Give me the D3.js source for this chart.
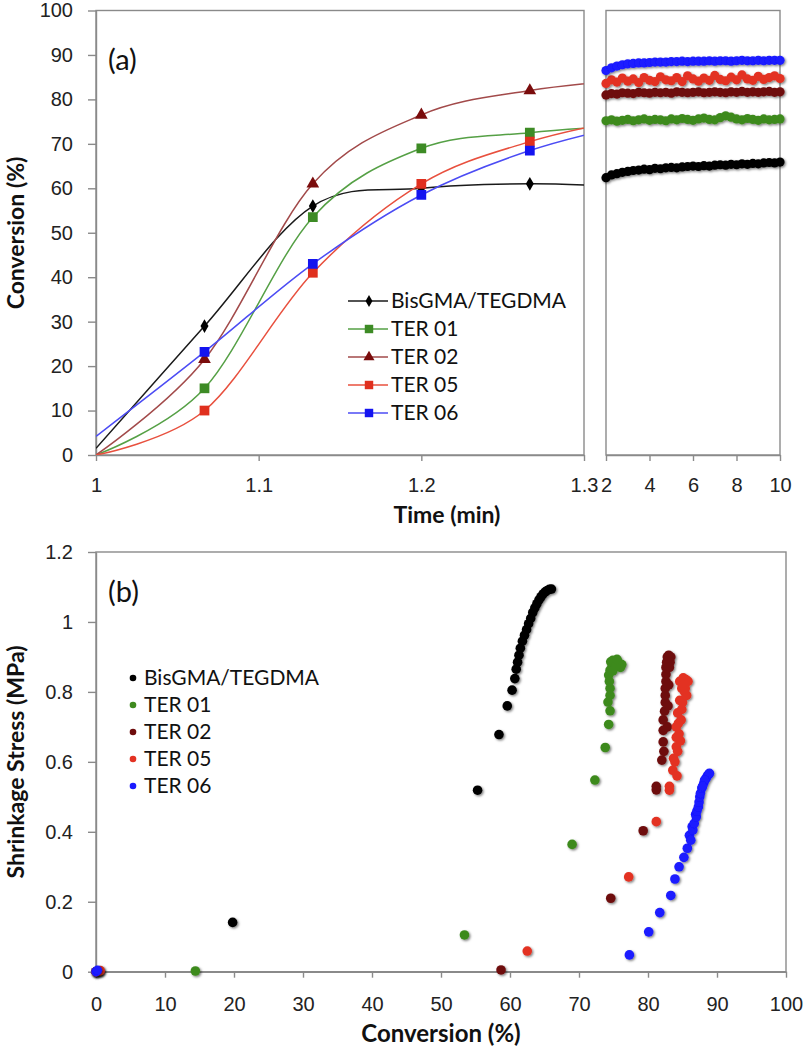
<!DOCTYPE html>
<html>
<head>
<meta charset="utf-8">
<script src="https://cdn.jsdelivr.net/npm/d3@7"></script>
<style>
  body { margin: 0; background: #fff; }
  svg { display: block; font-family: Lato, "Noto Sans", sans-serif; }
</style>
</head>
<body>
<svg id="chart" width="806" height="1050"></svg>
<script>
// ---- data ----
var seriesNames = ["BisGMA/TEGDMA", "TER 01", "TER 02", "TER 05", "TER 06"];

// (a) left part, time in min
var timesA = [1, 1.0667, 1.1333, 1.2, 1.2667, 1.3333];
var bisA   = [1.5, 29, 56, 60, 61, 60.2];
var ter01A = [0, 15, 53.5, 69, 72.5, 74.2];
var ter02A = [0, 21.5, 61, 76.5, 82, 84.6];
var ter05A = [0, 10, 41, 61, 70.5, 76];
var ter06A = [4.2, 23.2, 43, 58.5, 68.5, 74.8];

// (a) right part, 2 - 10 min
var timesR = [2, 2.25, 2.5, 2.75, 3, 3.25, 3.5, 3.75, 4, 4.25, 4.5, 4.75, 5, 5.25, 5.5, 5.75, 6,
              6.25, 6.5, 6.75, 7, 7.25, 7.5, 7.75, 8, 8.25, 8.5, 8.75, 9, 9.25, 9.5, 9.75, 10];
var bisR   = [62.4,63.0,63.3,63.6,63.8,64.0,64.1,64.3,64.2,64.5,64.4,64.6,64.7,64.6,64.8,64.9,65.0,
              64.9,65.1,65.0,65.2,65.3,65.2,65.4,65.3,65.5,65.4,65.6,65.5,65.7,65.8,65.7,65.9];
var ter01R = [75.2,75.4,75.1,75.3,75.5,75.2,75.4,75.6,75.3,75.5,75.4,75.2,75.6,75.4,75.7,75.5,75.3,
              75.6,75.8,75.5,75.4,75.9,76.3,76.0,75.6,75.4,75.7,75.5,75.3,75.6,75.4,75.5,75.6];
var ter02R = [81.0,81.3,81.2,81.5,81.4,81.3,81.6,81.5,81.4,81.6,81.5,81.6,81.4,81.7,81.6,81.5,81.6,
              81.7,81.5,81.6,81.7,81.6,81.5,81.7,81.6,81.8,81.6,81.7,81.6,81.7,81.8,81.6,81.7];
var ter05R = [83.6,84.4,83.9,84.8,84.1,84.6,83.8,84.9,84.3,84.0,85.1,84.4,84.2,84.9,84.0,85.3,84.6,
              84.1,84.8,84.3,85.4,84.5,84.2,85.0,84.4,85.5,84.6,84.3,85.2,84.5,84.9,85.3,84.7];
var ter06R = [86.5,87.1,87.5,87.8,88.0,88.1,88.2,88.2,88.3,88.4,88.4,88.4,88.5,88.5,88.6,88.5,88.6,
              88.6,88.6,88.7,88.6,88.7,88.7,88.6,88.7,88.8,88.7,88.7,88.8,88.7,88.8,88.8,88.8];

// (b) [conversion %, stress MPa]
var bisB = [[0,0],[0.3,0.002],[19.8,0.141],[55.3,0.519],[58.4,0.678],[59.6,0.76],[60.3,0.805],
            [60.7,0.838],[60.9,0.865],[61.1,0.885],[61.3,0.905],[61.5,0.925],[61.8,0.945],[62.1,0.962],
            [62.4,0.978],[62.7,0.995],[63.0,1.01],[63.3,1.027],[63.6,1.04],[63.9,1.052],[64.2,1.063],
            [64.5,1.072],[64.8,1.08],[65.1,1.086],[65.4,1.09],[65.7,1.093],[66.0,1.094]];
var ter01B = [[0,0],[0.4,0.001],[14.4,0.002],[53.4,0.105],[69.0,0.364],[72.3,0.548],[73.8,0.641],
              [74.3,0.707],[74.5,0.746],[74.2,0.771],[74.5,0.79],[74.5,0.81],[74.4,0.83],[74.3,0.848],
              [74.5,0.862],[74.8,0.872],[75.1,0.88],[74.6,0.886],[75.4,0.884],[75.8,0.882],[74.9,0.89],
              [75.6,0.888],[76.2,0.878],[76.0,0.87],[75.3,0.872],[74.9,0.86],[75.5,0.893]];
var ter02B = [[0,0],[0.5,0.002],[58.7,0.005],[74.6,0.21],[79.3,0.403],[81.2,0.52],[81.2,0.53],
              [82.0,0.605],[82.2,0.657],[82.2,0.69],[82.2,0.72],[82.4,0.745],[82.5,0.77],[82.5,0.79],
              [82.5,0.81],[82.6,0.83],[82.6,0.85],[82.6,0.87],[82.7,0.885],[82.8,0.9],[83.0,0.905],
              [83.3,0.9],[83.2,0.885],[82.9,0.76],[82.8,0.7],[83.0,0.82],[82.3,0.63],[83.1,0.87]];
var ter05B = [[0,0],[0.6,0.003],[62.5,0.059],[77.2,0.271],[81.2,0.429],[83.1,0.519],[83.1,0.53],
              [83.6,0.576],[83.7,0.61],[84.1,0.643],[84.1,0.67],[84.1,0.7],[84.3,0.74],[84.6,0.776],
              [84.9,0.81],[84.6,0.83],[85.1,0.84],[85.5,0.835],[85.8,0.83],[85.3,0.8],[85.6,0.79],
              [85.0,0.77],[84.8,0.72],[84.5,0.68],[84.3,0.63],[83.9,0.6],[84.9,0.75],[85.3,0.82],
              [84.4,0.71],[84.7,0.66],[85.4,0.81],[84.2,0.56]];
var ter06B = [[0,0],[0.2,0.004],[77.3,0.048],[80.1,0.114],[81.7,0.169],[83.3,0.218],[83.9,0.265],
              [84.5,0.3],[85.2,0.327],[85.7,0.353],[86.0,0.39],[86.2,0.376],[86.4,0.415],[86.5,0.405],
              [86.7,0.424],[86.9,0.45],[87.0,0.443],[87.1,0.46],[87.3,0.471],[87.4,0.485],[87.5,0.5],
              [87.6,0.51],[87.8,0.525],[88.1,0.54],[88.4,0.552],[88.6,0.56],[88.8,0.565],[88.9,0.567],
              [88.2,0.548],[87.9,0.53]];

var yTicksA = [0, 10, 20, 30, 40, 50, 60, 70, 80, 90, 100];
var xTicksA = [1, 1.1, 1.2, 1.3];
var xTicksR = [2, 4, 6, 8, 10];
var xTicksB = [0, 10, 20, 30, 40, 50, 60, 70, 80, 90, 100];
var yTicksB = [0, 0.2, 0.4, 0.6, 0.8, 1, 1.2];

// ---- styles ----
var markColors = ["#000000", "#3d8b25", "#7a0c0c", "#e0301e", "#1414f0"];
var lineColors = ["#1a1a1a", "#55a045", "#a24a4a", "#e8503e", "#4c4cf4"];
var dotColors  = ["#000000", "#3e8a1e", "#6e0c0c", "#e33222", "#1a1aff"];
var symbols = [d3.symbolDiamond, d3.symbolSquare, d3.symbolTriangle, d3.symbolSquare, d3.symbolSquare];
var symSizes = [55, 95, 70, 95, 95];
var axisGray = "#8a8a8a";

var svg = d3.select("#chart");

// soft shadow like the excel markers
var defs = svg.append("defs");
defs.append("filter").attr("id", "shadow")
    .attr("x", "-50%").attr("y", "-50%").attr("width", "200%").attr("height", "200%")
  .append("feDropShadow")
    .attr("dx", 1.3).attr("dy", 1.3).attr("stdDeviation", 1)
    .attr("flood-color", "#000").attr("flood-opacity", 0.5);

// ---- scales ----
var xA = d3.scaleLinear().domain([1, 1.3]).range([96, 584]);
var xR = d3.scaleLinear().domain([2, 10]).range([606, 780]);
var yA = d3.scaleLinear().domain([0, 100]).range([455, 10.5]);
var xB = d3.scaleLinear().domain([0, 100]).range([96, 786]);
var yB = d3.scaleLinear().domain([0, 1.2]).range([971.7, 552]);

defs.append("clipPath").attr("id", "clipA")
  .append("rect")
    .attr("x", xA(1)).attr("y", yA(100))
    .attr("width", xA(1.3) - xA(1)).attr("height", yA(0) - yA(100));

function styleAxis(g) {
    g.selectAll("path, line").attr("stroke", axisGray).attr("stroke-width", 1.4);
    g.selectAll("text").attr("fill", "#222").style("font-size", "20px");
}

function frame(x0, x1, y0, y1) {
    svg.append("rect")
        .attr("x", x0).attr("y", y0)
        .attr("width", x1 - x0).attr("height", y1 - y0)
        .attr("fill", "none").attr("stroke", axisGray).attr("stroke-width", 1.4);
}

// ================= panel (a) =================
frame(xA(1), xA(1.3), yA(100), yA(0));
frame(xR(2), xR(10), yA(100), yA(0));

svg.append("g")
    .attr("transform", "translate(" + xA(1) + ",0)")
    .call(d3.axisLeft(yA).tickValues(yTicksA).tickSize(8).tickSizeOuter(0).tickPadding(15))
    .call(styleAxis);

svg.append("g")
    .attr("transform", "translate(0," + yA(0) + ")")
    .call(d3.axisBottom(xA).tickValues(xTicksA).tickFormat(d3.format("")).tickSize(6).tickSizeOuter(0).tickPadding(17))
    .call(styleAxis);

svg.append("g")
    .attr("transform", "translate(0," + yA(0) + ")")
    .call(d3.axisBottom(xR).tickValues(xTicksR).tickSize(6).tickSizeOuter(0).tickPadding(17))
    .call(styleAxis);

var seriesA = [bisA, ter01A, ter02A, ter05A, ter06A];
var seriesR = [bisR, ter01R, ter02R, ter05R, ter06R];

var lineA = d3.line()
    .x((d, i) => xA(timesA[i]))
    .y(d => yA(d))
    .curve(d3.curveCardinal.tension(0));

var gA = svg.append("g").attr("clip-path", "url(#clipA)");
seriesA.forEach(function(vals, k) {
    gA.append("path")
        .attr("d", lineA(vals))
        .attr("fill", "none")
        .attr("stroke", lineColors[k])
        .attr("stroke-width", 1.5);
});
seriesA.forEach(function(vals, k) {
    gA.selectAll(".m" + k)
        .data(vals.slice(1, 5))
        .enter().append("path")
        .attr("class", "m" + k)
        .attr("transform", (d, i) => "translate(" + xA(timesA[i + 1]) + "," + yA(d) + ")")
        .attr("d", d3.symbol().type(symbols[k]).size(symSizes[k]))
        .attr("fill", markColors[k]);
});

// right part: dense measured points
seriesR.forEach(function(vals, k) {
    svg.append("g").attr("filter", "url(#shadow)")
        .selectAll("circle")
        .data(vals)
        .enter().append("circle")
        .attr("cx", (d, i) => xR(timesR[i]))
        .attr("cy", d => yA(d))
        .attr("r", 4.6)
        .attr("fill", dotColors[k]);
});

// legend (a)
var legA = svg.append("g");
seriesNames.forEach(function(name, k) {
    var y = 301 + k * 28;
    legA.append("line")
        .attr("x1", 348).attr("x2", 388).attr("y1", y).attr("y2", y)
        .attr("stroke", lineColors[k]).attr("stroke-width", 1.5);
    legA.append("path")
        .attr("transform", "translate(369," + y + ")")
        .attr("d", d3.symbol().type(symbols[k]).size(symSizes[k] * 0.75))
        .attr("fill", markColors[k]);
    legA.append("text")
        .attr("x", 391).attr("y", y + 7)
        .style("font-size", "21px").attr("fill", "#111")
        .text(name);
});

svg.append("text").attr("x", 108).attr("y", 70)
    .style("font-size", "29px").attr("fill", "#111").text("(a)");

svg.append("text")
    .attr("transform", "translate(24,233) rotate(-90)")
    .attr("text-anchor", "middle")
    .style("font-size", "23px").style("font-weight", "bold").attr("fill", "#111")
    .text("Conversion (%)");

svg.append("text")
    .attr("x", 447).attr("y", 523)
    .attr("text-anchor", "middle")
    .style("font-size", "23px").style("font-weight", "bold").attr("fill", "#111")
    .text("Time (min)");

// ================= panel (b) =================
frame(xB(0), xB(100), yB(1.2), yB(0));

svg.append("g")
    .attr("transform", "translate(" + xB(0) + ",0)")
    .call(d3.axisLeft(yB).tickValues(yTicksB).tickFormat(d3.format("")).tickSize(8).tickSizeOuter(0).tickPadding(15))
    .call(styleAxis);

svg.append("g")
    .attr("transform", "translate(0," + yB(0) + ")")
    .call(d3.axisBottom(xB).tickValues(xTicksB).tickSize(6).tickSizeOuter(0).tickPadding(19))
    .call(styleAxis);

var seriesB = [bisB, ter01B, ter02B, ter05B, ter06B];
seriesB.forEach(function(pts, k) {
    svg.append("g").attr("filter", "url(#shadow)")
        .selectAll("circle")
        .data(pts)
        .enter().append("circle")
        .attr("cx", d => xB(d[0]))
        .attr("cy", d => yB(d[1]))
        .attr("r", 4.8)
        .attr("fill", dotColors[k]);
});

// legend (b)
var legB = svg.append("g");
seriesNames.forEach(function(name, k) {
    var y = 678 + k * 27;
    legB.append("circle")
        .attr("cx", 133).attr("cy", y).attr("r", 3.3)
        .attr("fill", dotColors[k]);
    legB.append("text")
        .attr("x", 144).attr("y", y + 7)
        .style("font-size", "21px").attr("fill", "#111")
        .text(name);
});

svg.append("text").attr("x", 108).attr("y", 602)
    .style("font-size", "29px").attr("fill", "#111").text("(b)");

svg.append("text")
    .attr("transform", "translate(24,762) rotate(-90)")
    .attr("text-anchor", "middle")
    .style("font-size", "23px").style("font-weight", "bold").attr("fill", "#111")
    .text("Shrinkage Stress (MPa)");

svg.append("text")
    .attr("x", 441).attr("y", 1042)
    .attr("text-anchor", "middle")
    .style("font-size", "24px").style("font-weight", "bold").attr("fill", "#111")
    .text("Conversion (%)");
</script>
</body>
</html>
